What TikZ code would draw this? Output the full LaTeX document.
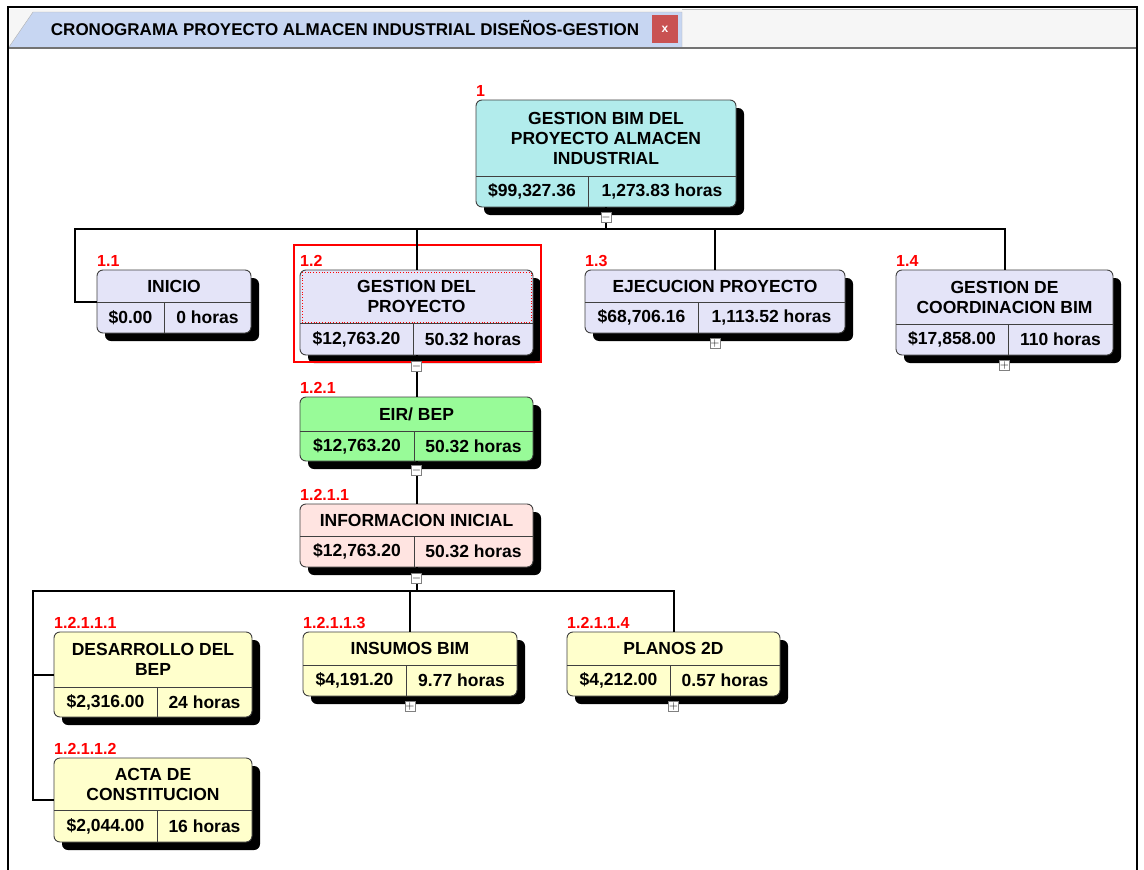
\documentclass[tikz,border=0pt]{standalone}
\usepackage{fontspec}
\setmainfont{Liberation Sans}
\usetikzlibrary{shadows,positioning}

\definecolor{cyanbox}{RGB}{178,236,236}
\definecolor{lavbox}{RGB}{228,228,248}
\definecolor{grnbox}{RGB}{152,251,152}
\definecolor{pinkbox}{RGB}{255,228,225}
\definecolor{ylwbox}{RGB}{255,255,204}
\definecolor{tabblue}{RGB}{199,214,242}
\definecolor{stripgray}{RGB}{246,246,246}
\definecolor{closered}{RGB}{201,82,82}

% box of the tree: name, fill, x, y, width, height, header height, cost width, number
\newcommand{\wbs}[9]{%
  \node[wbsbox,fill=#2,minimum width=#5,minimum height=#6,anchor=north west] (#1) at (#3,#4) {};
  \draw[divline] (#3,{#4+#7}) -- ({#3+#5},{#4+#7});
  \draw[divline] ({#3+#8},{#4+#7}) -- ({#3+#8},{#4+#6});
  \coordinate (#1-t) at ({#3+#5/2},{#4+#7/2});
  \coordinate (#1-c) at ({#3+#8/2},{#4+(#6+#7)/2});
  \coordinate (#1-h) at ({#3+(#5+#8)/2},{#4+(#6+#7)/2});
  \node[wbsnum] (#1-n) at (#3,{#4-4}) {#9};
}

\begin{document}
\begin{tikzpicture}[x=1pt,y=-1pt]
   \tikzset{wbsbox/.style={draw=black!75,line width=0.9,rounded corners=6,inner sep=0,outer sep=0,
              drop shadow={shadow xshift=8pt,shadow yshift=-8pt,fill=black,opacity=1}},
            divline/.style={draw=black!75,line width=0.9},
            wbsnum/.style={anchor=base west,inner sep=0,text=red,font=\fontsize{16}{16}\selectfont\bfseries},
            ttl/.style={align=center,inner sep=0,font=\fontsize{17.5}{20}\selectfont\bfseries},
            val/.style={inner sep=0,font=\fontsize{17.5}{20}\selectfont\bfseries},
            conn/.style={line width=2},
            tog/.style={draw=black!50,fill=white,line width=0.8,minimum size=10,inner sep=0,
              font=\fontsize{13}{13}\selectfont\bfseries}};
   \useasboundingbox[fill=white] (0,0) rectangle (1144,870);

% window and tab
\fill[stripgray] (9,9) rectangle (1136,48);
\draw[black!25] (682,9) -- (1136,9);
\filldraw[fill=tabblue,draw=black!30] (9,47) -- (33,12) -- (682,12) -- (682,47);
\draw[black!55,line width=1.5] (9,48) -- (1136,48);
\node[font=\fontsize{17}{18}\selectfont\bfseries] (tabttl) at (345,28) {CRONOGRAMA PROYECTO ALMACEN INDUSTRIAL DISEÑOS-GESTION};
\node[fill=closered,minimum width=26,minimum height=28,inner sep=0,text=white,font=\fontsize{12}{12}\selectfont\bfseries] (close) at (665,29) {x};
\draw[line width=2] (8,870) -- (8,7) -- (1137,7) -- (1137,870);

% boxes
\wbs{n1}{cyanbox}{476}{100}{260}{107}{76}{112}{1}
\node[ttl] (n1-tt) at (n1-t) {GESTION BIM DEL\\PROYECTO ALMACEN\\INDUSTRIAL};
\node[val] (n1-cc) at (n1-c) {\$99,327.36};
\node[val] (n1-hh) at (n1-h) {1,273.83 horas};

\wbs{n11}{lavbox}{97}{270}{154}{63}{32}{67}{1.1}
\node[ttl] (n11-tt) at (n11-t) {INICIO};
\node[val] (n11-cc) at (n11-c) {\$0.00};
\node[val] (n11-hh) at (n11-h) {0 horas};

\wbs{n12}{lavbox}{300}{270}{233}{85}{53}{113}{1.2}
\node[ttl] (n12-tt) at (n12-t) {GESTION DEL\\PROYECTO};
\node[val] (n12-cc) at (n12-c) {\$12,763.20};
\node[val] (n12-hh) at (n12-h) {50.32 horas};

\wbs{n13}{lavbox}{585}{270}{260}{63}{32}{113}{1.3}
\node[ttl] (n13-tt) at (n13-t) {EJECUCION PROYECTO};
\node[val] (n13-cc) at (n13-c) {\$68,706.16};
\node[val] (n13-hh) at (n13-h) {1,113.52 horas};

\wbs{n14}{lavbox}{896}{270}{217}{85}{54}{112}{1.4}
\node[ttl] (n14-tt) at (n14-t) {GESTION DE\\COORDINACION BIM};
\node[val] (n14-cc) at (n14-c) {\$17,858.00};
\node[val] (n14-hh) at (n14-h) {110 horas};

\wbs{n121}{grnbox}{300}{397}{233}{64}{34}{114}{1.2.1}
\node[ttl] (n121-tt) at (n121-t) {EIR/ BEP};
\node[val] (n121-cc) at (n121-c) {\$12,763.20};
\node[val] (n121-hh) at (n121-h) {50.32 horas};

\wbs{n1211}{pinkbox}{300}{504}{233}{63}{32}{114}{1.2.1.1}
\node[ttl] (n1211-tt) at (n1211-t) {INFORMACION INICIAL};
\node[val] (n1211-cc) at (n1211-c) {\$12,763.20};
\node[val] (n1211-hh) at (n1211-h) {50.32 horas};

\wbs{n12111}{ylwbox}{54}{632}{198}{85}{55}{103}{1.2.1.1.1}
\node[ttl] (n12111-tt) at (n12111-t) {DESARROLLO DEL\\BEP};
\node[val] (n12111-cc) at (n12111-c) {\$2,316.00};
\node[val] (n12111-hh) at (n12111-h) {24 horas};

\wbs{n12112}{ylwbox}{54}{758}{198}{84}{52}{103}{1.2.1.1.2}
\node[ttl] (n12112-tt) at (n12112-t) {ACTA DE\\CONSTITUCION};
\node[val] (n12112-cc) at (n12112-c) {\$2,044.00};
\node[val] (n12112-hh) at (n12112-h) {16 horas};

\wbs{n12113}{ylwbox}{303}{632}{214}{64}{33}{103}{1.2.1.1.3}
\node[ttl] (n12113-tt) at (n12113-t) {INSUMOS BIM};
\node[val] (n12113-cc) at (n12113-c) {\$4,191.20};
\node[val] (n12113-hh) at (n12113-h) {9.77 horas};

\wbs{n12114}{ylwbox}{567}{632}{213}{64}{33}{103}{1.2.1.1.4}
\node[ttl] (n12114-tt) at (n12114-t) {PLANOS 2D};
\node[val] (n12114-cc) at (n12114-c) {\$4,212.00};
\node[val] (n12114-hh) at (n12114-h) {0.57 horas};

% selection
\draw[red,line width=1.3] (294,245) rectangle (541,362);
\draw[red,dotted,line width=0.8] (302,272) rectangle (531,322);

% connectors
\coordinate (b1) at (606,229);
\coordinate (b11) at (75,229);
\draw[conn] (n1.south) -- (b1);
\draw[conn] (b1) -| (n12.north);
\draw[conn] (b1) -| (n13.north);
\draw[conn] (b1) -| (n14.north);
\draw[conn] (b1) -- (b11) |- (n11.west);
\draw[conn] (n12.south) -- (n121.north);
\draw[conn] (n121.south) -- (n1211.north);
\coordinate (b2) at (416.5,591);
\coordinate (b3) at (33,591);
\draw[conn] (n1211.south) -- (b2);
\draw[conn] (b2) -| (n12113.north);
\draw[conn] (b2) -| (n12114.north);
\draw[conn] (b2) -- (b3) |- (n12111.west);
\draw[conn] (b3) |- (n12112.west);

% toggles
\node[tog] (t1) at ([yshift=-10pt]n1.south) {$-$};
\node[tog] (t12) at ([yshift=-11pt]n12.south) {$-$};
\node[tog] (t121) at ([yshift=-9pt]n121.south) {$-$};
\node[tog] (t1211) at ([yshift=-11pt]n1211.south) {$-$};
\node[tog] (t13) at ([yshift=-10pt]n13.south) {$+$};
\node[tog] (t14) at ([yshift=-10pt]n14.south) {$+$};
\node[tog] (t12113) at ([yshift=-10pt]n12113.south) {$+$};
\node[tog] (t12114) at ([yshift=-10pt]n12114.south) {$+$};

\end{tikzpicture}
\end{document}
